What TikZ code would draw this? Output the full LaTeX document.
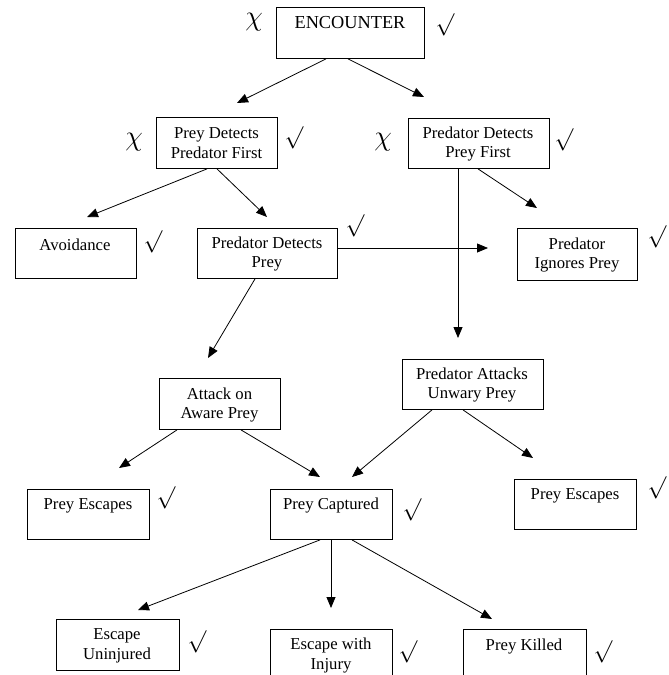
\documentclass[tikz,border=0pt]{standalone}
\usepackage{fontspec}
\setmainfont{Liberation Serif}
\usetikzlibrary{arrows.meta,calc}
\begin{document}
\begin{tikzpicture}[x=1pt,y=-1pt,
  box/.style={draw=black,line width=0.9pt,inner sep=0pt,anchor=north west},
  txt/.style={font=\fontsize{16.7}{19.5}\selectfont,align=center,inner sep=0pt},
  chk/.style={font=\fontsize{19}{19}\selectfont,inner sep=0pt,scale=1.3},
  chi/.style={font=\fontsize{17}{17}\selectfont,inner sep=0pt,scale=1.65},
  arr/.style={line width=0.8pt,-{Triangle[length=11pt,width=9pt]}}]
\useasboundingbox (0,0) rectangle (669,675);
\begin{scope}
\clip (0,0) rectangle (669,675);
% boxes
\node[box,minimum width=148pt,minimum height=51pt] (enc) at (276,7) {};
\node[box,minimum width=121pt,minimum height=51pt] (pdpf) at (156,117) {};
\node[box,minimum width=141pt,minimum height=50pt] (pdprf) at (408,118) {};
\node[box,minimum width=121pt,minimum height=50pt] (avoid) at (15,228) {};
\node[box,minimum width=140pt,minimum height=50pt] (pdp) at (197,228) {};
\node[box,minimum width=120pt,minimum height=52pt] (pip) at (517,228) {};
\node[box,minimum width=121pt,minimum height=51pt] (aap) at (159,378) {};
\node[box,minimum width=141pt,minimum height=50pt] (pau) at (402,359) {};
\node[box,minimum width=122pt,minimum height=50pt] (pe1) at (27,489) {};
\node[box,minimum width=122pt,minimum height=50pt] (pc) at (270,489) {};
\node[box,minimum width=122pt,minimum height=50pt] (pe2) at (514,479) {};
\node[box,minimum width=123pt,minimum height=51pt] (eu) at (56,619) {};
\node[box,minimum width=122pt,minimum height=61pt] (ewi) at (270,629) {};
\node[box,minimum width=123pt,minimum height=61pt] (pk) at (463,629) {};
\end{scope}
% texts
\node[txt,font=\fontsize{18.3}{20}\selectfont] (tenc) at (350,23) {ENCOUNTER};
\node[txt] (tpdpf) at (216.5,143) {Prey Detects\\Predator First};
\node[txt] (tpdprf) at (478,144) {Predator Detects\\Prey First};
\node[txt] (tavoid) at (75,245) {Avoidance};
\node[txt] (tpdp) at (267,254) {Predator Detects\\Prey};
\node[txt] (tpip) at (577,255) {Predator\\Ignores Prey};
\node[txt] (taap) at (219.5,405) {Attack on\\Aware Prey};
\node[txt] (tpau) at (472,385) {Predator Attacks\\Unwary Prey};
\node[txt] (tpe1) at (88,506) {Prey Escapes};
\node[txt] (tpc) at (331,506) {Prey Captured};
\node[txt] (tpe2) at (575,496) {Prey Escapes};
\node[txt] (teu) at (117,646) {Escape\\Uninjured};
\node[txt] (tewi) at (331,655.5) {Escape with\\Injury};
\node[txt] (tpk) at (524,646) {Prey Killed};
% marks
\node[chi] (x1) at (254,22) {$\chi$};
\node[chi] (x2) at (134,142) {$\chi$};
\node[chi] (x3) at (383,142) {$\chi$};
\node[chk] (c1) at (445,25) {$\surd$};
\node[chk] (c2) at (294,138) {$\surd$};
\node[chk] (c3) at (564,140) {$\surd$};
\node[chk] (c4) at (153,242) {$\surd$};
\node[chk] (c5) at (355,226) {$\surd$};
\node[chk] (c6) at (657,237) {$\surd$};
\node[chk] (c7) at (166,498) {$\surd$};
\node[chk] (c8) at (412,510) {$\surd$};
\node[chk] (c9) at (657,488) {$\surd$};
\node[chk] (c10) at (197,642) {$\surd$};
\node[chk] (c11) at (408,652) {$\surd$};
\node[chk] (c12) at (603,652) {$\surd$};
% arrow tips
\coordinate (a1) at (237,103);
\coordinate (a2) at (424,97);
\coordinate (a3) at (87,217);
\coordinate (a4) at (267,217);
\coordinate (a5) at (537,208);
\coordinate (a6) at (458,338);
\coordinate (a7) at (488,248);
\coordinate (a8) at (208,358);
\coordinate (a9) at (119,468);
\coordinate (a10) at (320,477);
\coordinate (a11) at (352,477);
\coordinate (a12) at (533,458);
\coordinate (a13) at (138,610);
\coordinate (a14) at (331,608);
\coordinate (a15) at (492,619);
% connectors
\draw[arr] ($(enc.south west)+(50,0)$) -- (a1);
\draw[arr] ($(enc.south west)+(72,0)$) -- (a2);
\draw[arr] ($(pdpf.south west)+(51,0)$) -- (a3);
\draw[arr] ($(pdpf.south west)+(61,0)$) -- (a4);
\draw[arr] ($(pdprf.south west)+(70,0)$) -- (a5);
\draw[arr] (pdprf.south west -| a6) -- (a6);
\draw[arr] (pdp.east |- a7) -- (a7);
\draw[arr] ($(pdp.south west)+(58,0)$) -- (a8);
\draw[arr] ($(aap.south west)+(18,0)$) -- (a9);
\draw[arr] ($(aap.south west)+(82,0)$) -- (a10);
\draw[arr] ($(pau.south west)+(30,0)$) -- (a11);
\draw[arr] ($(pau.south west)+(61,0)$) -- (a12);
\draw[arr] ($(pc.south west)+(50,0)$) -- (a13);
\draw[arr] (pc.south -| a14) -- (a14);
\draw[arr] ($(pc.south west)+(82,0)$) -- (a15);
\end{tikzpicture}
\end{document}
